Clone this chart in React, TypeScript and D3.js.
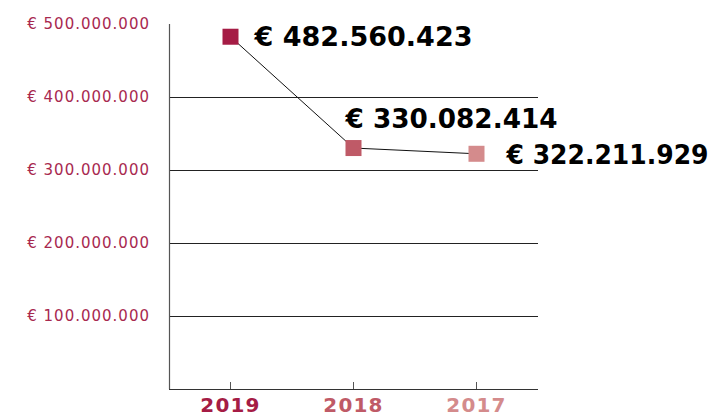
import React from 'react';
import * as d3 from 'd3';

// Values
const years = ['2019', '2018', '2017'];
const totals = [482560423, 330082414, 322211929];
const yearColors = ['#a51c45', '#bf5a67', '#d48b8c'];
const yTicks = [100000000, 200000000, 300000000, 400000000, 500000000];
const valueLabels = ['€ 482.560.423', '€ 330.082.414', '€ 322.211.929'];

const width = 716;
const height = 417;
const margin = { left: 169, right: 178, top: 24, bottom: 28 };

// dots as thousand separator
const fmt = (v: number) => '€ ' + d3.format(',')(v).replace(/,/g, '.');

const App = () => {
    const xScale = d3.scalePoint()
        .domain(years)
        .range([margin.left, width - margin.right])
        .padding(0.5);

    const yScale = d3.scaleLinear()
        .domain([0, 500000000])
        .range([height - margin.bottom, margin.top]);

    const line = d3.line<number>()
        .x((d, i) => xScale(years[i]) as number)
        .y(d => yScale(d));

    // label placement relative to each point (left-anchored text), and text widths
    // so the narrow "1"s of the original font are approximated
    const labelDx = [24, -8, 30];
    const labelDy = [9, -20, 10];
    const labelLen = [218, 212, 202];

    const x0 = margin.left;
    const x1 = width - margin.right;
    const yBase = yScale(0);

    return (
        <svg width={width} height={height} style={{ position: 'absolute', left: 0, top: 0 }}>
            {/* gridlines */}
            {yTicks.filter(t => t < 500000000).map(t => (
                <line key={t} x1={x0} x2={x1} y1={Math.round(yScale(t)) + 0.5} y2={Math.round(yScale(t)) + 0.5}
                    stroke="#222" strokeWidth={1} />
            ))}
            {/* y axis labels */}
            {yTicks.map(t => (
                <text key={'l' + t} x={150} y={yScale(t)} textAnchor="end" dominantBaseline="middle"
                    fontFamily="DejaVu Sans" fontSize={15} letterSpacing={1} fill="#a8294f">
                    {fmt(t)}
                </text>
            ))}
            {/* axes */}
            <line x1={x0 + 0.5} x2={x0 + 0.5} y1={yScale(500000000)} y2={yBase} stroke="#555" strokeWidth={1.2} />
            <line x1={x0} x2={x1} y1={yBase + 0.5} y2={yBase + 0.5} stroke="#333" strokeWidth={1.2} />
            {years.map(y => (
                <line key={'t' + y} x1={xScale(y)} x2={xScale(y)} y1={yBase - 7} y2={yBase} stroke="#555" strokeWidth={1} />
            ))}
            {years.map((y, i) => (
                <text key={'x' + y} x={xScale(y)} y={yBase + 23} textAnchor="middle"
                    fontFamily="DejaVu Sans" fontWeight="bold" fontSize={20} letterSpacing={1.2} fill={yearColors[i]}>
                    {y}
                </text>
            ))}
            {/* line + squares */}
            <path d={line(totals) || ''} fill="none" stroke="#111" strokeWidth={1} />
            {totals.map((v, i) => (
                <rect key={'p' + i} x={(xScale(years[i]) as number) - 8} y={yScale(v) - 8} width={16} height={16}
                    fill={yearColors[i]} />
            ))}
            {totals.map((v, i) => (
                <text key={'v' + i} x={(xScale(years[i]) as number) + labelDx[i]} y={yScale(v) + labelDy[i]}
                    fontFamily="DejaVu Sans" fontWeight="bold" fontSize={26}
                    textLength={labelLen[i]} lengthAdjust="spacingAndGlyphs" fill="#000">
                    {valueLabels[i]}
                </text>
            ))}
        </svg>
    );
};

export default App;
